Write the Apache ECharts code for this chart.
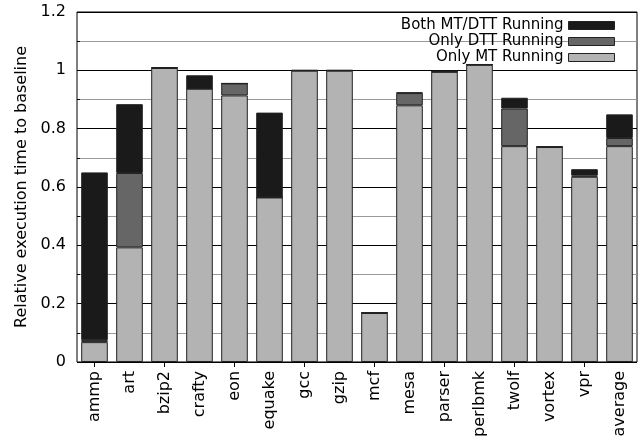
<!DOCTYPE html>
<html>
<head>
<meta charset="utf-8">
<script src="https://cdn.jsdelivr.net/npm/echarts@6/dist/echarts.min.js"></script>
<style>
  html, body { margin: 0; padding: 0; background: #fff; }
  #chart { width: 640px; height: 440px; }
</style>
</head>
<body>
<div id="chart"></div>
<script>
  var benchmarks = ['ammp', 'art', 'bzip2', 'crafty', 'eon', 'equake', 'gcc', 'gzip',
    'mcf', 'mesa', 'parser', 'perlbmk', 'twolf', 'vortex', 'vpr', 'average']
  // stacked parts, bottom to top
  var onlyMT = [0.068, 0.393, 1.008, 0.937, 0.914, 0.564, 0.999, 0.999,
    0.168, 0.880, 0.995, 1.019, 0.740, 0.737, 0.635, 0.740]
  var onlyDTT = [0.007, 0.255, 0, 0, 0.041, 0, 0, 0,
    0, 0.042, 0, 0, 0.129, 0, 0.004, 0.028]
  var bothMTDTT = [0.575, 0.236, 0.003, 0.046, 0, 0.291, 0.002, 0.002,
    0.002, 0.002, 0.004, 0.002, 0.037, 0.002, 0.022, 0.081]
  var seriesNames = ['Only MT Running', 'Only DTT Running', 'Both MT/DTT Running']
  var seriesColors = ['#b3b3b3', '#666666', '#1a1a1a']

  var chart = echarts.init(document.getElementById('chart'))
  var font = 'DejaVu Sans, sans-serif'

  var makeBar = function (name, data, color) {
    return {
      name: name,
      type: 'bar',
      stack: 'total',
      barWidth: '76%',
      data: data,
      itemStyle: { color: color, borderColor: '#222', borderWidth: 1 }
    }
  }

  var option = {
    backgroundColor: '#fff',
    animation: false,
    textStyle: { fontFamily: font },
    grid: {
      left: 77, right: 3, top: 12, bottom: 77,
      show: true, borderColor: '#000', borderWidth: 1
    },
    legend: {
      orient: 'vertical',
      right: 20,
      top: 13,
      align: 'right',
      itemWidth: 46,
      itemHeight: 8,
      itemGap: 1,
      icon: 'rect',
      textStyle: { fontSize: 15, color: '#000', fontFamily: font },
      data: ['Both MT/DTT Running', 'Only DTT Running', 'Only MT Running'],
      itemStyle: { borderColor: '#222', borderWidth: 1 }
    },
    xAxis: [
      {
        type: 'category',
        data: benchmarks,
        axisLine: { show: false },
        axisTick: { show: true, inside: true, alignWithLabel: true, length: 5, lineStyle: { color: '#000' } },
        axisLabel: { rotate: 90, fontSize: 16, color: '#000', margin: 9, fontFamily: font }
      },
      {
        type: 'category',
        position: 'top',
        data: benchmarks,
        axisLine: { show: false },
        axisTick: { show: true, inside: true, alignWithLabel: true, length: 5, lineStyle: { color: '#000' } },
        axisLabel: { show: false }
      }
    ],
    yAxis: [
      {
        type: 'value',
        min: 0,
        max: 1.2,
        interval: 0.2,
        name: 'Relative execution time to baseline',
        nameLocation: 'middle',
        nameGap: 46,
        nameTextStyle: { fontSize: 16, color: '#000', fontFamily: font },
        axisLine: { show: false },
        axisTick: { show: true, inside: true, length: 6, lineStyle: { color: '#000' } },
        minorTick: { show: true, splitNumber: 2, length: 3, lineStyle: { color: '#000' } },
        axisLabel: { fontSize: 16, color: '#000', margin: 11, fontFamily: font },
        splitLine: { show: true, lineStyle: { color: '#000', width: 1 } },
        minorSplitLine: { show: true, lineStyle: { color: '#999', width: 1 } }
      },
      {
        type: 'value',
        position: 'right',
        min: 0,
        max: 1.2,
        interval: 0.2,
        axisLine: { show: false },
        axisTick: { show: true, inside: true, length: 6, lineStyle: { color: '#000' } },
        axisLabel: { show: false },
        splitLine: { show: false }
      }
    ],
    series: [
      makeBar(seriesNames[0], onlyMT, seriesColors[0]),
      makeBar(seriesNames[1], onlyDTT, seriesColors[1]),
      makeBar(seriesNames[2], bothMTDTT, seriesColors[2])
    ]
  }
  chart.setOption(option)
</script>
</body>
</html>
